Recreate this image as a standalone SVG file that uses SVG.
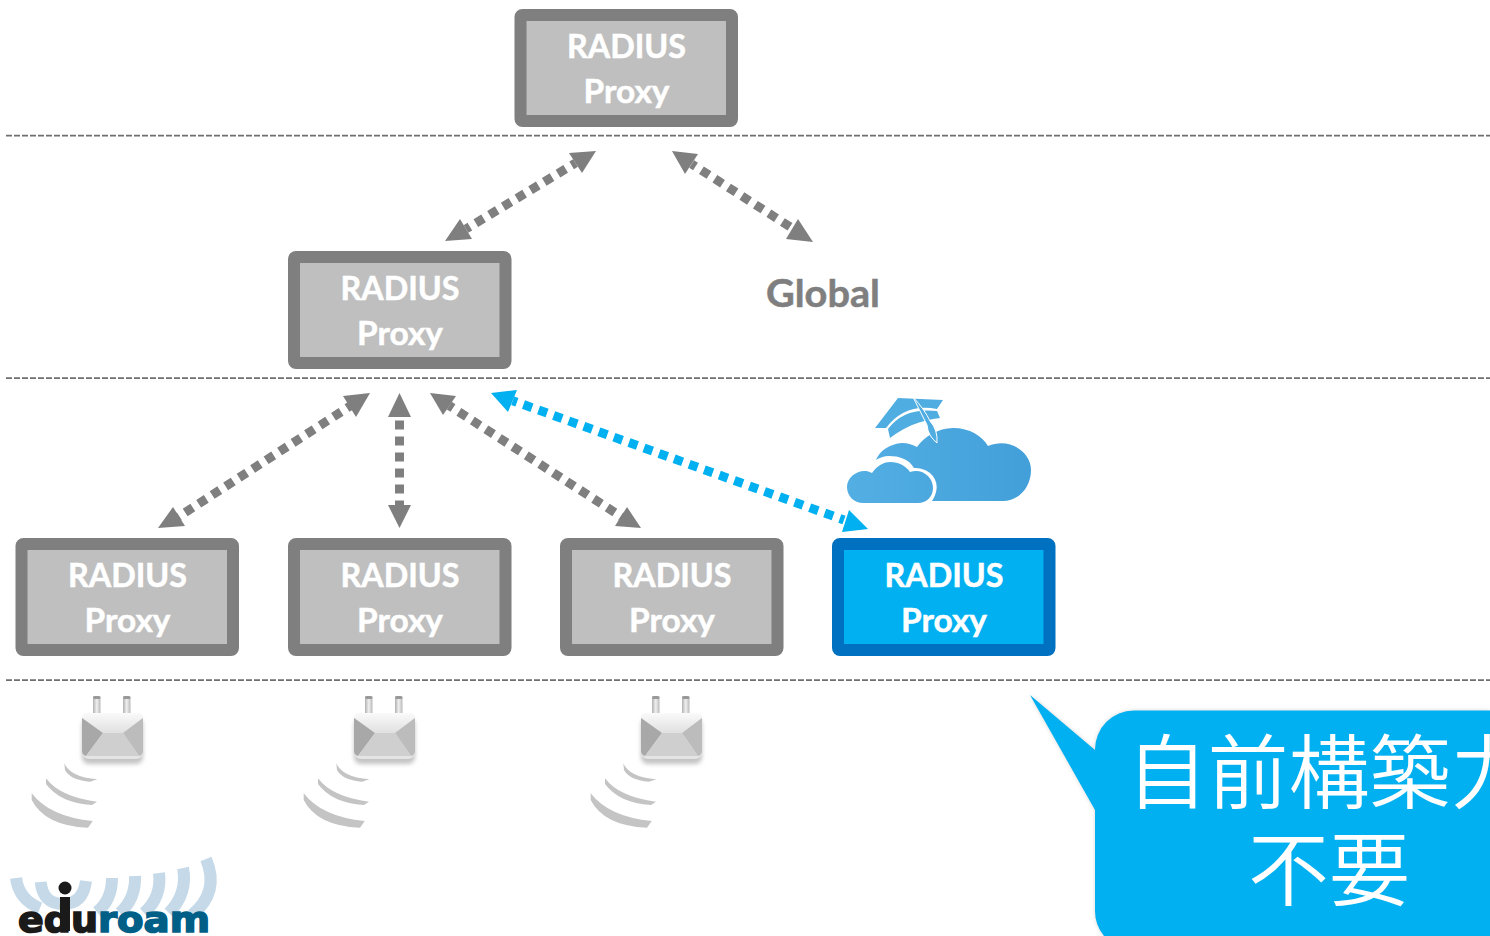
<svg xmlns="http://www.w3.org/2000/svg" width="1490" height="936" viewBox="0 0 1490 936">
<style>
.sep{stroke:#6f6f6f;stroke-width:1.7;stroke-dasharray:6 2;fill:none}
.box{fill:#bfbfbf;stroke:#7f7f7f;stroke-width:12}
.boxb{fill:#00b0f0;stroke:#0070c0;stroke-width:12}
.t{font-family:"Lato","Liberation Sans",sans-serif;font-weight:700;font-size:33px;fill:#fff;stroke:#fff;stroke-width:.5;text-anchor:middle}
.g{font-family:"Lato","Liberation Sans",sans-serif;font-weight:700;font-size:38px;fill:#7f7f7f;stroke:#7f7f7f;stroke-width:.5;text-anchor:middle}
.c{stroke:#7f7f7f;stroke-width:9;stroke-dasharray:9 7;stroke-dashoffset:4.5;fill:none}
.cb{stroke:#00b0f0;stroke-width:9;stroke-dasharray:9 7;stroke-dashoffset:4.5;fill:none}
.ah{fill:#7f7f7f}.ahb{fill:#00b0f0}
.j{font-family:"Noto Sans CJK JP",sans-serif;font-size:81px;fill:#fff;text-anchor:middle;font-weight:350}
.arc{fill:#c4c4c4}
.wave{fill:none;stroke:#c5d9e8;stroke-width:12}
.eb{font-family:"DejaVu Sans",sans-serif;font-weight:700;font-size:36px;stroke-width:1.6}
</style>
<defs>
<linearGradient id="cl" gradientUnits="userSpaceOnUse" x1="847" x2="1031" y1="0" y2="0"><stop offset="0" stop-color="#53afe3"/><stop offset="1" stop-color="#429fd9"/></linearGradient>
<linearGradient id="pin" x1="0" x2="1" y1="0" y2="0"><stop offset="0" stop-color="#b0b0b0"/><stop offset=".5" stop-color="#f0f0f0"/><stop offset="1" stop-color="#b8b8b8"/></linearGradient>
<linearGradient id="top" x1="0" x2="0" y1="0" y2="1"><stop offset="0" stop-color="#fafafa"/><stop offset="1" stop-color="#e0e0e0"/></linearGradient>
<filter id="sh" x="-20%" y="-20%" width="140%" height="150%"><feGaussianBlur stdDeviation="2"/></filter>
<filter id="soft" x="-5%" y="-5%" width="110%" height="110%"><feGaussianBlur stdDeviation=".5"/></filter>
<g id="ap">
<rect x="62" y="31" width="61" height="46" rx="7" fill="#888" opacity=".5" filter="url(#sh)" transform="translate(0,2)"/>
<g filter="url(#soft)">
<rect x="73" y="11" width="7.500" height="20" rx="2" fill="url(#pin)"/>
<rect x="73" y="11" width="7.500" height="3" rx="1.500" fill="#999"/>
<rect x="103" y="11" width="7.500" height="20" rx="2" fill="url(#pin)"/>
<rect x="103" y="11" width="7.500" height="3" rx="1.500" fill="#999"/>
<rect x="62" y="28" width="61" height="46" rx="7" fill="#e4e4e4"/>
<path d="M66 28H119Q123 28 123 33L103 48H83L62 33Q62 28 66 28Z" fill="url(#top)"/>
<path d="M62 33L83 48L66 71Q62 70 62 66Z" fill="#a8a8a8"/>
<path d="M123 33L103 48L119 71Q123 70 123 66Z" fill="#bcbcbc"/>
<path d="M83 48H103L119 71H66Z" fill="#cfcfcf"/>
</g>
<path class="arc" d="M44.300 78.300Q50 92 77.300 94.300L70 96.700Q50 95 45 85Z"/>
<path class="arc" d="M26 93.300Q40 112 77 116.700L72 120Q40 118 26 99Z"/>
<path class="arc" d="M11.700 108.300Q30 132 72.700 136L68 142.700Q25 141 11.700 115Z"/>
</g>
</defs>
<rect width="1490" height="936" fill="#fff"/>
<g id="separators">
<path class="sep" d="M6 135.700H1490"/><path class="sep" d="M6 378.200H1490"/><path class="sep" d="M6 680.200H1490"/>
</g>
<g id="connectors">
<path class="c" pathLength="128" d="M575.500 163L466 229"/>
<path class="ah" d="M596 151L569 153L582 173Z"/><path class="ah" d="M445 241L460 219L472 239Z"/>
<path class="c" pathLength="128" d="M691.700 164L799.700 233"/>
<path class="ah" d="M672 151L698 154L685 174Z"/><path class="ah" d="M813 242L798 219L786 239Z"/>
<path class="c" pathLength="208" d="M350.800 405.600L175.500 518.700"/>
<path class="ah" d="M370 393L343 396L356 417Z"/><path class="ah" d="M158 528L173 507L185 526Z"/>
<path class="c" pathLength="96" d="M399.500 409V505"/>
<path class="ah" d="M399.500 393L388 417H411Z"/><path class="ah" d="M399.500 528L388 505H411Z"/>
<path class="c" pathLength="208" d="M449.200 405.600L624.500 518.700"/>
<path class="ah" d="M430 393L456 396L443 415Z"/><path class="ah" d="M641 528L627 507L615 526Z"/>
<path class="cb" pathLength="352" d="M512.700 400.700L844 520"/>
<path class="ahb" d="M491 393L517 390L508 412Z"/><path class="ahb" d="M868 529L849 510L842 532Z"/>
</g>
<g id="node-top"><rect class="box" x="520.500" y="15" width="211.500" height="106" rx="2"/><text class="t" x="626.500" y="58" textLength="119" lengthAdjust="spacingAndGlyphs">RADIUS</text><text class="t" x="626.500" y="103" textLength="86" lengthAdjust="spacingAndGlyphs">Proxy</text></g>
<g id="node-mid"><rect class="box" x="294" y="257" width="211.500" height="106" rx="2"/><text class="t" x="400" y="300" textLength="119" lengthAdjust="spacingAndGlyphs">RADIUS</text><text class="t" x="400" y="345" textLength="86" lengthAdjust="spacingAndGlyphs">Proxy</text></g>
<g id="node-a"><rect class="box" x="21.500" y="544" width="211.500" height="106" rx="2"/><text class="t" x="127.500" y="587" textLength="119" lengthAdjust="spacingAndGlyphs">RADIUS</text><text class="t" x="127.500" y="632" textLength="86" lengthAdjust="spacingAndGlyphs">Proxy</text></g>
<g id="node-b"><rect class="box" x="294" y="544" width="211.500" height="106" rx="2"/><text class="t" x="400" y="587" textLength="119" lengthAdjust="spacingAndGlyphs">RADIUS</text><text class="t" x="400" y="632" textLength="86" lengthAdjust="spacingAndGlyphs">Proxy</text></g>
<g id="node-c"><rect class="box" x="566" y="544" width="211.500" height="106" rx="2"/><text class="t" x="672" y="587" textLength="119" lengthAdjust="spacingAndGlyphs">RADIUS</text><text class="t" x="672" y="632" textLength="86" lengthAdjust="spacingAndGlyphs">Proxy</text></g>
<g id="node-d"><rect class="boxb" x="838" y="544" width="211.500" height="106" rx="2"/><text class="t" x="944" y="587" textLength="119" lengthAdjust="spacingAndGlyphs">RADIUS</text><text class="t" x="944" y="632" textLength="86" lengthAdjust="spacingAndGlyphs">Proxy</text></g>
<g id="global"><text class="g" x="823" y="307" textLength="114" lengthAdjust="spacingAndGlyphs">Global</text></g>
<g id="cloud">
<path fill="url(#cl)" d="M876 460C880 450 890 444 902 443C908 443 913 445 917 447C924 437 938 428 953 428C970 428 982 436 988 446C1010 437 1031 452 1031 470C1031 488 1018 501 1003 501H932C939 490 938 480 930 473C925 469 919 468 914 468C909 459 899 456 889 456C884 456 879 458 876 460Z"/>
<path fill="url(#cl)" d="M872 473C877 466 883 462 890 462C899 462 906 466 910 472C922 468 933 477 933 488C933 497 926 503 918 503H863C854 503 847 496 847 487C847 475 862 467 872 473Z"/>
<path fill="#50ade1" d="M898 398L943 400L937 409Q905 403 886 428L875 428Z"/>
<path fill="#50ade1" d="M888 429Q904 407 937 411L940 418Q912 421 890 438Z"/>
<path fill="#50ade1" stroke="#fff" stroke-width="1" d="M913 397Q925 410 930 421Q938 430 937 443Q928 436 927 425Z"/>
</g>
<g id="ap-1"><use href="#ap" x="20" y="685"/></g>
<g id="ap-2"><use href="#ap" x="292" y="685"/></g>
<g id="ap-3"><use href="#ap" x="579" y="685"/></g>
<g id="eduroam">
<path class="wave" d="M16 878Q19 900 40 908"/>
<path class="wave" d="M40.700 882Q43 904 63 904Q83 904 86 881"/>
<path class="wave" d="M112 878Q112 900 97 912"/>
<path class="wave" d="M135 876Q136 898 120 913"/>
<path class="wave" d="M159 873Q162 897 144 913"/>
<path class="wave" d="M183 868Q188 893 169 913"/>
<path class="wave" d="M206 859Q220 892 192 915"/>
<rect x="60" y="897" width="10" height="34" fill="#1a1a1a"/>
<circle cx="65" cy="888" r="6.500" fill="#1a1a1a"/>
<text class="eb" x="18" y="932" fill="#1a1a1a" stroke="#1a1a1a" textLength="80" lengthAdjust="spacingAndGlyphs">edu</text>
<text class="eb" x="98" y="932" fill="#005f87" stroke="#005f87" textLength="112" lengthAdjust="spacingAndGlyphs">roam</text>
</g>
<g id="callout">
<path d="M1030 695L1095 750A39 39 0 0 1 1134 710.500H1490V936H1104Q1095 925 1095 911V810Z" fill="#808080" opacity=".3" filter="url(#sh)"/>
<path d="M1030 695L1095 750A39 39 0 0 1 1134 710.500H1490V936H1104Q1095 925 1095 911V810Z" fill="#00b0f0"/>
<text class="j" x="1329" y="802">自前構築力</text>
<text class="j" x="1329" y="899">不要</text>
</g>
</svg>
